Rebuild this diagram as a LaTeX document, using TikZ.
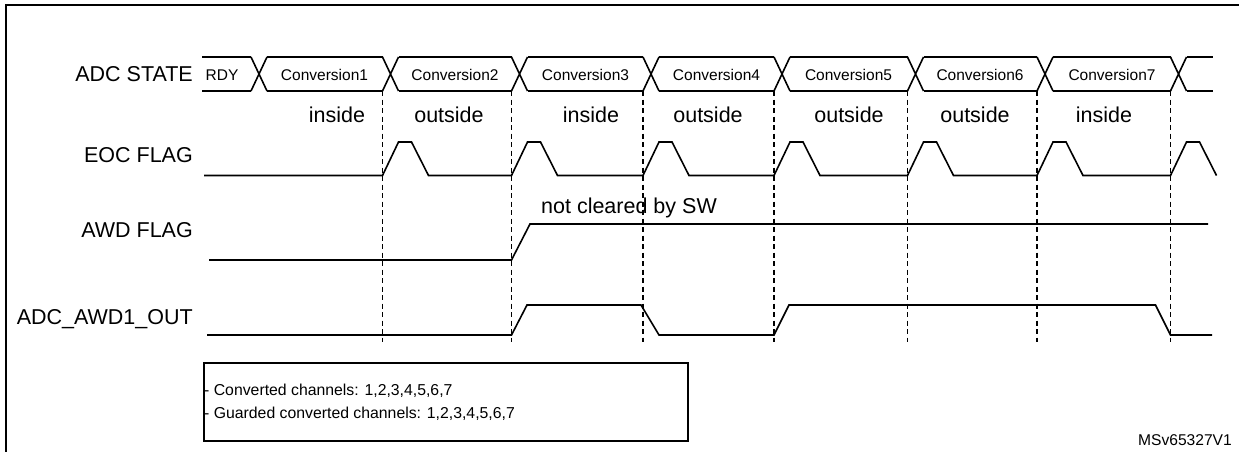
\documentclass[tikz,border=0pt]{standalone}
\usepackage{fontspec}
\setmainfont{Liberation Sans}
\begin{document}
\begin{tikzpicture}[x=1pt,y=-1pt,
  sig/.style={line width=1.6pt, line join=miter},
  frame/.style={line width=2.6pt},
  guide/.style={line width=1.3pt, dash pattern=on 5pt off 3.5pt},
  lbl/.style={anchor=base east, inner sep=0pt, font=\fontsize{21.5}{24}\selectfont},
  bustxt/.style={anchor=base, inner sep=0pt, font=\fontsize{15.5}{18}\selectfont},
  zone/.style={anchor=base, inner sep=0pt, font=\fontsize{21.5}{24}\selectfont},
  note/.style={anchor=base west, inner sep=0pt, font=\fontsize{15.8}{18}\selectfont},
  ref/.style={anchor=base east, inner sep=0pt, font=\fontsize{15.6}{18}\selectfont},
]
\useasboundingbox (0,0) rectangle (1239,452);
% frame
\draw[frame] (6,452) -- (6,5) -- (1239,5);

% dashed time markers
\foreach \n/\x in {1/382.5,2/511.5,3/643,4/774,5/907.5,6/1037,7/1170.5}{
  \coordinate (t\n) at (\x,91);
  \coordinate (b\n) at (\x,342);
  \draw[guide] (t\n) -- (b\n);
}

% signal labels
\node[lbl] (lstate) at (193,81.7) {ADC STATE};
\node[lbl] (leoc)   at (193,162.7) {EOC FLAG};
\node[lbl] (lawd)   at (193,237.7) {AWD FLAG};
\node[lbl] (lout)   at (193,324.4) {ADC\_AWD1\_OUT};

% ADC state bus
\draw[sig] (202,57) -- (251,57) (202,91) -- (251,91);
\foreach \c/\e in {251/382.5,382.5/511.5,511.5/643,643/774,774/907.5,907.5/1037,1037/1170.5,1170.5/1213}{
  \draw[sig] (\c,57) -- ({\c+16},91) (\c,91) -- ({\c+16},57);
  \draw[sig] ({\c+16},57) -- (\e,57) ({\c+16},91) -- (\e,91);
}
\node[bustxt] (srdy) at (222,80.5) {RDY};
\node[bustxt] (s1) at (324.5,80.5) {Conversion1};
\node[bustxt] (s2) at (455,80.5) {Conversion2};
\node[bustxt] (s3) at (585.5,80.5) {Conversion3};
\node[bustxt] (s4) at (716.5,80.5) {Conversion4};
\node[bustxt] (s5) at (848.5,80.5) {Conversion5};
\node[bustxt] (s6) at (980,80.5) {Conversion6};
\node[bustxt] (s7) at (1112,80.5) {Conversion7};

% inside / outside
\node[zone] (z1) at (337,122) {inside};
\node[zone] (z2) at (449,122) {outside};
\node[zone] (z3) at (591,122) {inside};
\node[zone] (z4) at (708,122) {outside};
\node[zone] (z5) at (849,122) {outside};
\node[zone] (z6) at (975,122) {outside};
\node[zone] (z7) at (1104,122) {inside};

% EOC flag
\draw[sig] (204,175.5)
  \foreach \x in {382.5,511.5,643,774,907.5,1037}{
    -- (\x,175.5) -- ({\x+16},142) -- ({\x+29},142) -- ({\x+46},175.5)
  }
  -- (1170.5,175.5) -- (1186.5,142) -- (1199.5,142) -- (1216.5,175.5);

% AWD flag
\draw[sig] (209,260) -- (511.5,260) -- (530,224) -- (1208,224);
\node[zone] (ncl) at (629,213.7) {not cleared by SW};

% ADC_AWD1_OUT
\draw[sig] (207,335) -- (511.5,335) -- (527,305) -- (641,305) -- (659,335)
  -- (774,335) -- (789,305) -- (1155.5,305) -- (1170.5,335) -- (1212,335);

% legend box
\draw[line width=1.4pt] (204,363) rectangle (688,441);
\node[note] (n1) at (204,395) {- Converted channels: 1,2,3,4,5,6,7};
\node[note] (n2) at (204,418.4) {- Guarded converted channels: 1,2,3,4,5,6,7};

\node[ref] (msv) at (1232,445.6) {MSv65327V1};
\end{tikzpicture}
\end{document}
